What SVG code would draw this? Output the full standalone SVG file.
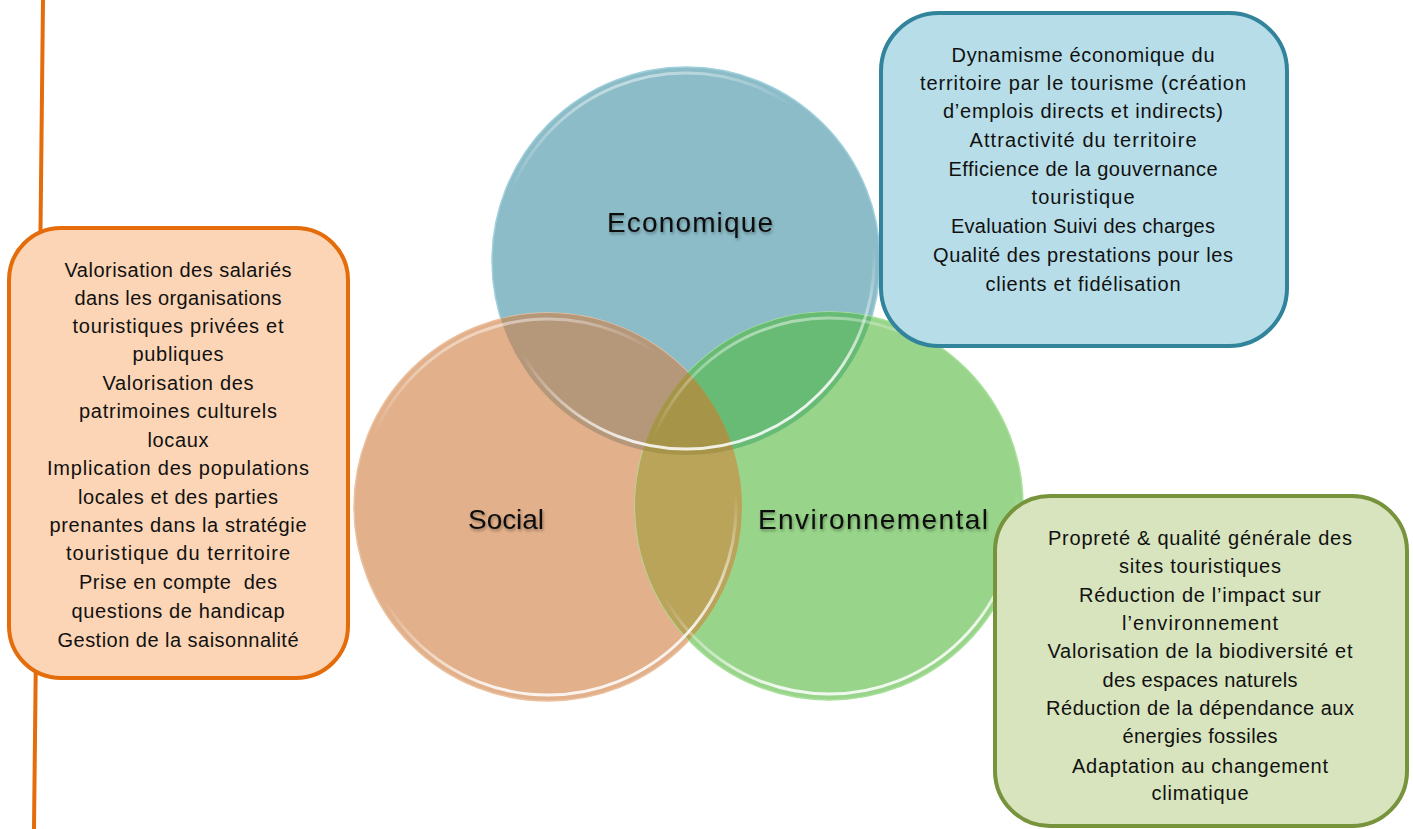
<svg xmlns="http://www.w3.org/2000/svg" width="1413" height="829" viewBox="0 0 1413 829">
<style>
.bt{font-family:"Liberation Sans",Arial,sans-serif;font-size:20px;fill:#111;text-anchor:middle}
.ct{font-family:"Liberation Sans",Arial,sans-serif;font-size:28px;fill:#111;text-anchor:middle}
.ring{fill:none;stroke:url(#shine);stroke-width:3}
</style>
<defs>
<linearGradient id="shine" x1="0" y1="0" x2="0.3" y2="1">
<stop offset="0" stop-color="#fff" stop-opacity="0.75"/>
<stop offset="0.3" stop-color="#fff" stop-opacity="0"/>
<stop offset="0.7" stop-color="#fff" stop-opacity="0"/>
<stop offset="1" stop-color="#fff" stop-opacity="0.85"/>
</linearGradient>
<filter id="ts" x="-10%" y="-30%" width="120%" height="160%">
<feGaussianBlur in="SourceAlpha" stdDeviation="1.6"/>
<feOffset dx="1" dy="2" result="b"/>
<feComponentTransfer><feFuncA type="linear" slope="0.35"/></feComponentTransfer>
<feMerge><feMergeNode/><feMergeNode in="SourceGraphic"/></feMerge>
</filter>
<clipPath id="cS"><circle cx="548" cy="507" r="194"/></clipPath>
<clipPath id="cV"><circle cx="829" cy="506" r="194"/></clipPath>
</defs>
<rect width="1413" height="829" fill="#fff"/>
<g id="connectors">
<line x1="43" y1="0" x2="34" y2="829" stroke="#E46C0A" stroke-width="4"/>
</g>
<g id="venn">
<g id="node-economique">
<circle cx="686" cy="261" r="194" fill="#8BBCC8" stroke="#9FD0DC" stroke-width="1.5"/>
</g>
<g id="node-social">
<circle cx="548" cy="507" r="194" fill="#E2B08A" stroke="#EBC19F" stroke-width="1.5"/>
</g>
<g id="node-environnemental">
<circle cx="829" cy="506" r="194" fill="#98D58A" stroke="#A9E09B" stroke-width="1.5"/>
</g>
<circle cx="686" cy="261" r="194" fill="#B5977A" clip-path="url(#cS)"/>
<circle cx="686" cy="261" r="194" fill="#67BB74" clip-path="url(#cV)"/>
<circle cx="548" cy="507" r="194" fill="#B9A45A" clip-path="url(#cV)"/>
<g clip-path="url(#cS)"><circle cx="686" cy="261" r="194" fill="#A69548" clip-path="url(#cV)"/></g>
<circle class="ring" cx="686" cy="261" r="188"/>
<circle class="ring" cx="548" cy="507" r="188"/>
<circle class="ring" cx="829" cy="506" r="188"/>
<text class="ct" x="690" y="232" textLength="166" filter="url(#ts)">Economique</text>
<text class="ct" x="506" y="529" textLength="76" filter="url(#ts)">Social</text>
<text class="ct" x="873" y="529" textLength="230" filter="url(#ts)">Environnemental</text>
</g>
<g id="box-social">
<rect x="9" y="228" width="339" height="450" rx="52" fill="#FBD5B5" stroke="#E46C0A" stroke-width="4"/>
<text class="bt" x="178" y="277" textLength="227">Valorisation des salariés</text>
<text class="bt" x="178" y="305" textLength="207">dans les organisations</text>
<text class="bt" x="178" y="333" textLength="211">touristiques privées et</text>
<text class="bt" x="178" y="361" textLength="91">publiques</text>
<text class="bt" x="178" y="390" textLength="151">Valorisation des</text>
<text class="bt" x="178" y="418" textLength="198">patrimoines culturels</text>
<text class="bt" x="178" y="447" textLength="61">locaux</text>
<text class="bt" x="178" y="475" textLength="262">Implication des populations</text>
<text class="bt" x="178" y="504" textLength="200">locales et des parties</text>
<text class="bt" x="178" y="532" textLength="257">prenantes dans la stratégie</text>
<text class="bt" x="178" y="560" textLength="224">touristique du territoire</text>
<text class="bt" x="178" y="589" textLength="198" xml:space="preserve">Prise en compte  des</text>
<text class="bt" x="178" y="618" textLength="213">questions de handicap</text>
<text class="bt" x="178" y="647" textLength="241">Gestion de la saisonnalité</text>
</g>
<g id="box-economique">
<rect x="881" y="13" width="406" height="333" rx="58" fill="#B7DEE8" stroke="#31849B" stroke-width="4"/>
<text class="bt" x="1083" y="62" textLength="263">Dynamisme économique du</text>
<text class="bt" x="1083" y="90" textLength="326">territoire par le tourisme (création</text>
<text class="bt" x="1083" y="118" textLength="280">d’emplois directs et indirects)</text>
<text class="bt" x="1083" y="147" textLength="227">Attractivité du territoire</text>
<text class="bt" x="1083" y="176" textLength="269">Efficience de la gouvernance</text>
<text class="bt" x="1083" y="204" textLength="103">touristique</text>
<text class="bt" x="1083" y="233" textLength="264">Evaluation Suivi des charges</text>
<text class="bt" x="1083" y="262" textLength="300">Qualité des prestations pour les</text>
<text class="bt" x="1083" y="291" textLength="195">clients et fidélisation</text>
</g>
<g id="box-environnemental">
<rect x="995" y="496" width="412" height="330" rx="55" fill="#D7E4BD" stroke="#77933C" stroke-width="4"/>
<text class="bt" x="1200" y="545" textLength="304">Propreté &amp; qualité générale des</text>
<text class="bt" x="1200" y="573" textLength="162">sites touristiques</text>
<text class="bt" x="1200" y="602" textLength="242">Réduction de l’impact sur</text>
<text class="bt" x="1200" y="630" textLength="156">l’environnement</text>
<text class="bt" x="1200" y="658" textLength="305">Valorisation de la biodiversité et</text>
<text class="bt" x="1200" y="687" textLength="195">des espaces naturels</text>
<text class="bt" x="1200" y="715" textLength="308">Réduction de la dépendance aux</text>
<text class="bt" x="1200" y="743" textLength="155">énergies fossiles</text>
<text class="bt" x="1200" y="773" textLength="256">Adaptation au changement</text>
<text class="bt" x="1200" y="800" textLength="97">climatique</text>
</g>
</svg>
